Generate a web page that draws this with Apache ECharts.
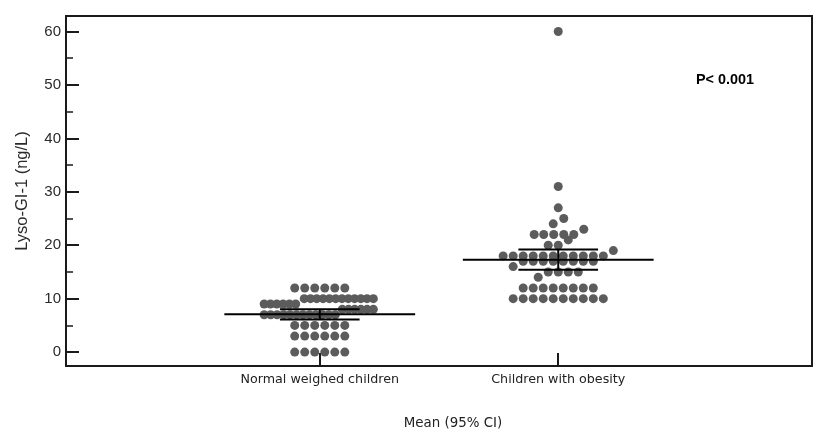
<!DOCTYPE html>
<html>
<head>
<meta charset="utf-8">
<script src="https://cdn.jsdelivr.net/npm/echarts@6/dist/echarts.min.js"></script>
<style>
html,body{margin:0;padding:0;background:#fff;}
#chart{width:831px;height:436px;}
</style>
</head>
<body>
<div id="chart"></div>
<script>
// ---- data ----
const categories = ['Normal weighed children', 'Children with obesity'];

// Normal weighed children: row values and horizontal dot offsets (in dot widths)
const normalRowValues = [12, 10, 9, 8, 7, 5, 3, 0];
const normalRowOffsets = [
  [-2.5, -1.5, -0.5, 0.5, 1.5, 2.5],
  [-1.55, -0.92, -0.3, 0.33, 0.96, 1.59, 2.22, 2.85, 3.48, 4.1, 4.72, 5.35],
  [-5.55, -4.92, -4.29, -3.66, -3.03, -2.4],
  [2.25, 2.87, 3.49, 4.11, 4.73, 5.35],
  [-5.55, -4.9, -4.26, -3.61, -2.97, -2.32, -1.68, -1.03, -0.39, 0.26, 0.9, 1.55],
  [-2.5, -1.5, -0.5, 0.5, 1.5, 2.5],
  [-2.5, -1.5, -0.5, 0.5, 1.5, 2.5],
  [-2.5, -1.5, -0.5, 0.5, 1.5, 2.5]
];

// Children with obesity
const obeseRowValues = [60, 31, 27, 25, 24, 23, 22, 21, 20, 19, 18, 17, 16, 15, 14, 12, 10];
const obeseRowOffsets = [
  [0],
  [0],
  [0],
  [0.55],
  [-0.5],
  [2.55],
  [-2.4, -1.45, -0.45, 0.55, 1.55],
  [1.0],
  [-1.0, 0],
  [5.5],
  [-5.5, -4.5, -3.5, -2.5, -1.5, -0.5, 0.5, 1.5, 2.5, 3.5, 4.5],
  [-3.5, -2.5, -1.5, -0.5, 0.5, 1.5, 2.5, 3.5],
  [-4.5],
  [-1, 0, 1, 2],
  [-2.0],
  [-3.5, -2.5, -1.5, -0.5, 0.5, 1.5, 2.5, 3.5],
  [-4.5, -3.5, -2.5, -1.5, -0.5, 0.5, 1.5, 2.5, 3.5, 4.5]
];

// Mean and 95% CI
const means = [7.1, 17.3];
const ciLow = [6.1, 15.4];
const ciHigh = [8.0, 19.2];

const yTicks = [0, 10, 20, 30, 40, 50, 60];
const yMinorTicks = [5, 15, 25, 35, 45, 55];
const pText = 'P< 0.001';
const xTitle = 'Mean (95% CI)';
const yTitle = 'Lyso-GI-1 (ng/L)';

// ---- build ----
const DOT = 0.042;        // one dot width in x-axis units
const MEAN_HALF = 0.4;
const CI_HALF = 0.167;

function buildPoints(groupIndex, rowValues, rowOffsets) {
  const pts = [];
  rowValues.forEach((v, i) => {
    rowOffsets[i].forEach(o => pts.push([groupIndex + o * DOT, v]));
  });
  return pts;
}
const dots = buildPoints(0, normalRowValues, normalRowOffsets)
  .concat(buildPoints(1, obeseRowValues, obeseRowOffsets));

const summary = means.map((m, i) => [i, m, ciLow[i], ciHigh[i]]);

const axisColor = '#1a1a1a';
const chart = echarts.init(document.getElementById('chart'));
chart.setOption({
  animation: false,
  backgroundColor: '#ffffff',
  grid: {left: 66, right: 19, top: 16, bottom: 70, show: true, borderColor: axisColor, borderWidth: 2, containLabel: false},
  xAxis: {
    type: 'value', min: -1.064, max: 2.064,
    axisLine: {show: true, onZero: false, lineStyle: {color: axisColor, width: 2}},
    axisTick: {show: true, inside: true, length: 13, customValues: [0, 1], lineStyle: {color: axisColor, width: 2}},
    axisLabel: {customValues: [0, 1], formatter: v => categories[Math.round(v)], fontFamily: 'DejaVu Sans', fontSize: 12.7, color: '#222', margin: 7},
    splitLine: {show: false}
  },
  yAxis: [{
    type: 'value', min: -2.6, max: 62.9,
    axisLine: {show: true, onZero: false, lineStyle: {color: axisColor, width: 2}},
    axisTick: {show: true, inside: true, length: 13, customValues: yTicks, lineStyle: {color: axisColor, width: 2}},
    axisLabel: {customValues: yTicks, fontFamily: 'Liberation Sans', fontSize: 15, color: '#2a2a2a', margin: 5},
    splitLine: {show: false}
  }, {
    type: 'value', min: -2.6, max: 62.9, position: 'left',
    axisLine: {show: false, onZero: false},
    axisTick: {show: true, inside: true, length: 7, customValues: yMinorTicks, lineStyle: {color: axisColor, width: 1.5}},
    axisLabel: {show: false},
    splitLine: {show: false}
  }],
  series: [{
    type: 'scatter',
    data: dots,
    symbol: 'circle',
    symbolSize: 9,
    itemStyle: {color: '#5c5c5c', opacity: 1},
    z: 2,
    silent: true
  }, {
    type: 'custom',
    data: summary,
    encode: {x: 0, y: 1},
    z: 5,
    silent: true,
    renderItem: function (params, api) {
      const x = api.value(0), m = api.value(1), lo = api.value(2), hi = api.value(3);
      const st = {stroke: '#000', lineWidth: 2};
      const a = api.coord([x - MEAN_HALF, m]), b = api.coord([x + MEAN_HALF, m]);
      const c1 = api.coord([x - CI_HALF, hi]), c2 = api.coord([x + CI_HALF, hi]);
      const d1 = api.coord([x - CI_HALF, lo]), d2 = api.coord([x + CI_HALF, lo]);
      const v1 = api.coord([x, hi]), v2 = api.coord([x, lo]);
      return {type: 'group', children: [
        {type: 'line', shape: {x1: a[0], y1: a[1], x2: b[0], y2: b[1]}, style: st},
        {type: 'line', shape: {x1: c1[0], y1: c1[1], x2: c2[0], y2: c2[1]}, style: st},
        {type: 'line', shape: {x1: d1[0], y1: d1[1], x2: d2[0], y2: d2[1]}, style: st},
        {type: 'line', shape: {x1: v1[0], y1: v1[1], x2: v2[0], y2: v2[1]}, style: st}
      ]};
    }
  }],
  graphic: [
    {type: 'text', left: 696, top: 73, style: {text: pText, font: 'bold 14.4px "Liberation Sans"', fill: '#000'}},
    {type: 'text', x: 453, y: 424, style: {text: xTitle, font: '13.4px "DejaVu Sans"', fill: '#222', align: 'center', verticalAlign: 'middle'}},
    {type: 'text', x: 22, y: 191, rotation: Math.PI / 2, style: {text: yTitle, font: '16.5px "Liberation Sans"', fill: '#2a2a2a', align: 'center', verticalAlign: 'middle'}}
  ]
});
</script>
</body>
</html>
